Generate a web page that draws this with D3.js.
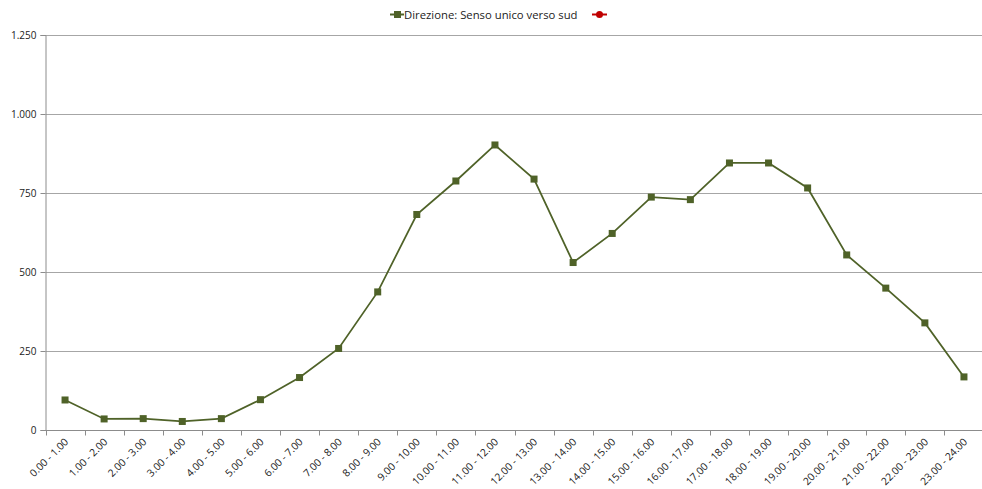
<!DOCTYPE html>
<html><head><meta charset="utf-8">
<script src="https://cdn.jsdelivr.net/npm/d3@7"></script>
<style>body{margin:0;background:#fff}svg{display:block}</style>
</head><body>
<svg id="c" width="982" height="489"></svg>
<script>
const categories = ["0.00 - 1.00","1.00 - 2.00","2.00 - 3.00","3.00 - 4.00","4.00 - 5.00","5.00 - 6.00","6.00 - 7.00","7.00 - 8.00","8.00 - 9.00","9.00 - 10.00","10.00 - 11.00","11.00 - 12.00","12.00 - 13.00","13.00 - 14.00","14.00 - 15.00","15.00 - 16.00","16.00 - 17.00","17.00 - 18.00","18.00 - 19.00","19.00 - 20.00","20.00 - 21.00","21.00 - 22.00","22.00 - 23.00","23.00 - 24.00"];
const sudValues = [95,35,36,27,36,96,166,258,437,682,788,902,794,530,622,737,729,845,845,766,554,449,339,168];
const secondValues = [];
const seriesNames = ["Direzione: Senso unico verso sud", ""];
const yTicks = [0,250,500,750,1000,1250];

(function(){
const svg = d3.select("#c");
const font = "'Open Sans', 'Liberation Sans', sans-serif";
const mLeft = 45.5, mRight = 983.5, mTop = 35, mBottom = 430;
const x = d3.scaleBand().domain(categories).range([mLeft, mRight]);
const y = d3.scaleLinear().domain([0,1250]).range([mBottom, mTop]);
const fmt = v => v === 0 ? "0" : d3.format(",")(v).replace(/,/g, ".");

// gridlines
svg.append("g").selectAll("line").data(yTicks.filter(d => d > 0)).join("line")
  .attr("x1", mLeft).attr("x2", 982).attr("y1", d => Math.round(y(d)) + 0.5).attr("y2", d => Math.round(y(d)) + 0.5)
  .attr("stroke", "#a6a6a6").attr("stroke-width", 1);

// y axis
const ya = svg.append("g").attr("transform", `translate(${mLeft},0)`)
  .call(d3.axisLeft(y).tickValues(yTicks).tickFormat(fmt).tickSize(5).tickPadding(4));
ya.select(".domain").attr("stroke", "#8c8c8c");
ya.selectAll(".tick line").attr("stroke", "#8c8c8c");
ya.selectAll(".tick text").attr("font-family", font).attr("font-size", 10).attr("fill", "#222");

// x axis
const xa = svg.append("g").attr("transform", `translate(0,${mBottom + 0.5})`);
xa.append("line").attr("x1", mLeft).attr("x2", 982).attr("stroke", "#8c8c8c");
xa.selectAll("line.t").data(d3.range(categories.length + 1)).join("line").attr("class", "t")
  .attr("x1", i => Math.round(mLeft + i * x.step()) + 0.5).attr("x2", i => Math.round(mLeft + i * x.step()) + 0.5)
  .attr("y1", 0).attr("y2", 5).attr("stroke", "#8c8c8c");
xa.selectAll("text").data(categories).join("text")
  .attr("transform", d => `translate(${x(d) + x.bandwidth()/2 + 4},12) rotate(-45)`)
  .attr("text-anchor", "end").attr("font-family", font).attr("font-size", 10.3).attr("fill", "#222")
  .text(d => d);

// line
const cx = (d, i) => x(categories[i]) + x.bandwidth()/2;
svg.append("path").datum(sudValues)
  .attr("d", d3.line().x(cx).y(d => y(d)))
  .attr("fill", "none").attr("stroke", "#4f6228").attr("stroke-width", 1.75);
svg.append("g").selectAll("rect").data(sudValues).join("rect")
  .attr("x", (d, i) => cx(d, i) - 3.5).attr("y", d => y(d) - 3.5)
  .attr("width", 7).attr("height", 7).attr("fill", "#4f6228");

// legend
const lg = svg.append("g");
lg.append("line").attr("x1", 390).attr("x2", 404).attr("y1", 14.5).attr("y2", 14.5).attr("stroke", "#4f6228").attr("stroke-width", 2);
lg.append("rect").attr("x", 394).attr("y", 11).attr("width", 7).attr("height", 7).attr("fill", "#4f6228");
lg.append("text").attr("x", 404).attr("y", 18.5).attr("font-family", font).attr("font-size", 11.3).attr("fill", "#222").text(seriesNames[0]);
lg.append("line").attr("x1", 592).attr("x2", 607).attr("y1", 14.5).attr("y2", 14.5).attr("stroke", "#c00000").attr("stroke-width", 2);
lg.append("circle").attr("cx", 599.5).attr("cy", 14.5).attr("r", 3.5).attr("fill", "#c00000");
})();
</script>
</body></html>
